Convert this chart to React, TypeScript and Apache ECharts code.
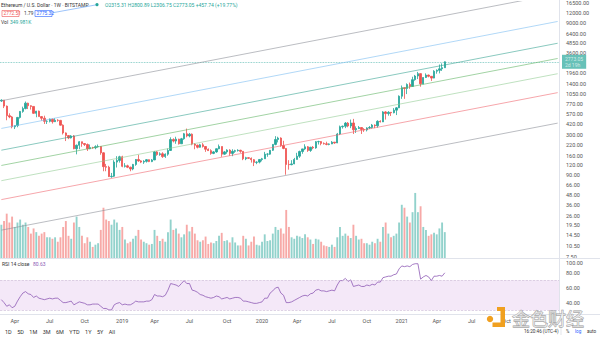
import React, { useEffect, useRef } from "react";
import * as echarts from "echarts";

// ---- categories (weekly bars, Monday opens) ----
const START_DATE = Date.UTC(2018, 1, 26);
const CATEGORY_COUNT = 208;
const categories: string[] = Array.from({ length: CATEGORY_COUNT }, (_, i) =>
  new Date(START_DATE + i * 7 * 86400000).toISOString().slice(0, 10)
);
const MONTHS = ["Jan", "Feb", "Mar", "Apr", "May", "Jun", "Jul", "Aug", "Sep", "Oct", "Nov", "Dec"];
const LAST_LABEL_DATE = "2021-12-31";

// ---- OHLC [open, high, low, close] ----
const ohlc2018: number[][] = [
  [842, 888, 820, 865], [865, 870, 680, 722], [722, 735, 470, 540], [540, 580, 500, 520],
  [520, 535, 368, 385], [385, 400, 360, 400], [400, 520, 380, 512], [512, 620, 495, 615],
  [615, 710, 590, 670], [670, 830, 655, 790], [790, 800, 660, 730], [730, 740, 650, 715],
  [715, 720, 570, 580], [580, 625, 515, 620], [620, 630, 525, 525], [525, 530, 465, 500],
  [500, 540, 420, 455], [455, 470, 420, 455], [455, 495, 440, 485], [485, 495, 425, 450],
  [450, 500, 445, 470], [470, 485, 450, 468], [468, 475, 400, 405], [405, 415, 305, 320],
  [320, 325, 250, 295], [295, 300, 265, 275], [275, 300, 270, 292], [292, 300, 195, 198],
  [198, 225, 167, 220], [220, 250, 195, 245], [245, 245, 210, 232], [232, 235, 215, 225],
  [225, 232, 185, 198], [198, 225, 195, 205], [205, 210, 198, 204], [204, 220, 195, 211],
  [211, 225, 205, 212], [212, 215, 165, 175], [175, 178, 100, 115], [115, 125, 100, 113],
  [113, 118, 84, 85], [85, 95, 82, 86], [86, 140, 84, 132], [132, 158, 112, 139],
  [139, 160, 130, 155],
];
const ohlc2019: number[][] = [
  [155, 160, 113, 116], [116, 128, 112, 118], [118, 122, 110, 113], [113, 115, 100, 107],
  [107, 125, 103, 123], [123, 145, 118, 143], [143, 165, 133, 137], [137, 140, 128, 132],
  [132, 140, 125, 135], [135, 145, 130, 142], [142, 143, 132, 134], [134, 145, 132, 141],
  [141, 185, 140, 180], [180, 185, 160, 166], [166, 178, 160, 170], [170, 178, 150, 156],
  [156, 172, 150, 168], [168, 200, 160, 188], [188, 280, 185, 262], [262, 272, 240, 250],
  [250, 285, 230, 265], [265, 268, 225, 230], [230, 275, 230, 268], [268, 320, 260, 312],
  [312, 365, 280, 292], [292, 320, 280, 308], [308, 315, 220, 228], [228, 235, 195, 220],
  [220, 225, 200, 207], [207, 230, 205, 223], [223, 235, 205, 212], [212, 215, 180, 195],
  [195, 200, 185, 187], [187, 195, 165, 172], [172, 185, 168, 180], [180, 200, 175, 198],
  [198, 225, 195, 212], [212, 212, 155, 168], [168, 185, 165, 180], [180, 195, 170, 190],
  [190, 195, 160, 172], [172, 195, 158, 183], [183, 192, 175, 187], [187, 195, 182, 189],
  [189, 192, 175, 183], [183, 183, 140, 146], [146, 155, 140, 151], [151, 153, 145, 148],
  [148, 152, 130, 142], [142, 145, 117, 131], [131, 135, 124, 132], [132, 145, 127, 143],
];
const ohlc2020: number[][] = [
  [143, 150, 135, 146], [146, 180, 145, 168], [168, 173, 155, 168], [168, 190, 165, 189],
  [189, 228, 185, 226], [226, 290, 220, 262], [262, 285, 240, 274], [274, 280, 210, 218],
  [218, 252, 195, 200], [200, 202, 90, 123], [123, 140, 105, 122], [122, 140, 120, 125],
  [125, 150, 124, 143], [143, 175, 143, 158], [158, 187, 150, 182], [182, 198, 170, 197],
  [197, 227, 190, 210], [210, 215, 180, 188], [188, 210, 180, 207], [207, 215, 195, 203],
  [203, 250, 198, 245], [245, 252, 225, 246], [246, 250, 220, 233], [233, 240, 225, 230],
  [230, 245, 220, 226], [226, 233, 220, 229], [229, 250, 228, 242], [242, 243, 230, 236],
  [236, 320, 235, 310], [310, 400, 300, 386], [386, 400, 365, 392], [392, 445, 370, 431],
  [431, 445, 380, 395], [395, 480, 370, 433], [433, 490, 310, 352], [352, 390, 320, 366],
  [366, 395, 360, 377], [377, 380, 310, 355], [355, 370, 330, 350], [350, 380, 335, 372],
  [372, 395, 360, 377], [377, 420, 365, 406], [406, 415, 370, 397], [397, 470, 375, 455],
  [455, 470, 440, 447], [447, 620, 445, 605], [605, 620, 480, 575], [575, 620, 540, 598],
  [598, 605, 535, 590], [590, 680, 580, 639], [639, 700, 550, 685], [685, 1000, 680, 975],
];
const ohlc2021: number[][] = [
  [975, 1350, 900, 1262], [1262, 1270, 900, 1232], [1232, 1440, 1040, 1390], [1390, 1475, 1220, 1312],
  [1312, 1760, 1300, 1610], [1610, 1860, 1560, 1800], [1800, 2040, 1640, 1935], [1935, 1960, 1300, 1420],
  [1420, 1730, 1400, 1720], [1720, 1950, 1700, 1850], [1850, 1880, 1730, 1785], [1785, 1800, 1550, 1690],
  [1690, 2150, 1680, 2080], [2080, 2200, 1930, 2140], [2140, 2550, 1950, 2240], [2240, 2640, 2100, 2315.31],
  [2315.31, 2800.89, 2306.75, 2773.05],
];

// ---- volume (thousand ETH) ----
const volume2018 = [450, 500, 600, 480, 560, 420, 480, 520, 450, 480, 420, 330, 400, 350, 300, 330, 350, 280, 280, 260, 280, 220, 280, 420, 500, 300, 260, 480, 560, 420, 300, 200, 280, 220, 150, 180, 200, 380, 680, 520, 500, 450, 520, 480, 380];
const volume2019 = [420, 250, 200, 220, 260, 300, 380, 250, 220, 200, 180, 190, 380, 300, 230, 260, 220, 350, 520, 380, 400, 330, 280, 320, 450, 360, 420, 330, 240, 220, 240, 290, 190, 210, 200, 230, 300, 340, 230, 240, 210, 280, 210, 170, 170, 300, 260, 170, 220, 290, 180, 170];
const volume2020 = [220, 320, 230, 240, 330, 420, 380, 400, 330, 650, 420, 280, 260, 300, 290, 270, 320, 280, 250, 190, 260, 250, 220, 170, 160, 150, 180, 150, 280, 420, 300, 330, 300, 270, 450, 300, 250, 260, 200, 200, 180, 220, 200, 260, 220, 420, 480, 330, 280, 300, 330, 480];
const volume2021 = [720, 680, 560, 480, 620, 880, 620, 700, 420, 380, 300, 320, 340, 320, 400, 480, 350];

// ---- RSI(14) ----
const rsi2018 = [44, 40, 35, 37, 33, 35, 42, 48, 53, 55, 52, 51, 47, 49, 46, 45, 44, 45, 46, 45, 46, 46, 43, 40, 40, 41, 42, 37, 39, 41, 40, 39, 37, 37, 38, 38, 38, 35, 32, 32, 30, 30, 37, 39, 40];
const rsi2019 = [37, 38, 37, 37, 39, 42, 41, 41, 41, 42, 42, 44, 51, 49, 49, 48, 50, 57, 66, 65, 64, 62, 66, 70, 66, 66, 57, 56, 54, 51, 50, 48, 47, 46, 47, 49, 48, 45, 46, 47, 45, 46, 47, 47, 46, 42, 42, 41, 40, 39, 39, 40];
const rsi2020 = [41, 46, 46, 53, 56, 60, 61, 53, 50, 40, 40, 41, 43, 45, 47, 49, 50, 49, 52, 53, 57, 58, 56, 56, 55, 56, 57, 56, 64, 70, 70, 73, 69, 71, 62, 63, 64, 62, 62, 64, 63, 65, 64, 68, 68, 74, 75, 76, 76, 78, 79, 86];
const rsi2021 = [90, 89, 90, 89, 92, 93, 93, 72, 75, 77, 75, 70, 76, 76, 77, 76, 80.63];

// ---- axis tick labels ----
const priceTickLabels = [16500, 12000, 9000, 6400, 4850, 3600, 1960, 1400, 1050, 770, 570, 420, 300, 220, 160, 120, 90, 66, 48, 36, 26, 19.5, 14.5, 10.5, 7.5];
const rsiTickLabels = [40, 60, 80, 100];
const lastPrice = 2773.05;

// ---- Fibonacci channel (price at first and last category) ----
const fibLevelNames = ["0", "0.236", "0.382", "0.5", "0.618", "0.786", "1"];
const fibStartPrice = [16.74, 42.3, 75.1, 119.2, 189.4, 366.7, 849];
const fibEndPrice = [431, 1087, 1930, 3064, 4866, 9423, 21820];
const fibColors = ["#8d9099", "#f06a72", "#93cc96", "#63b566", "#3aa493", "#7cbdf2", "#8d9099"];

const UP = "#26a69a";
const DOWN = "#ef5350";

export default function App() {
  const ref = useRef<HTMLDivElement>(null);

  useEffect(() => {
    if (!ref.current) return;
    const chart = echarts.init(ref.current, undefined, { renderer: "svg" });

    const ohlc = [...ohlc2018, ...ohlc2019, ...ohlc2020, ...ohlc2021];
    const vols = [...volume2018, ...volume2019, ...volume2020, ...volume2021];
    const rsi = [...rsi2018, ...rsi2019, ...rsi2020, ...rsi2021];

    const candleData = ohlc.map(([o, h, l, c]) => [o, c, l, h]);
    const volData = vols.map((v, i) => ({
      value: v,
      itemStyle: { color: ohlc[i][3] >= ohlc[i][0] ? "rgba(38,166,154,0.5)" : "rgba(239,83,80,0.5)" },
    }));

    const font = "Roboto, 'Noto Sans', sans-serif";
    const lastIdx = categories.length - 1;

    const xAxisBase = (gridIndex: number) => ({
      type: "category" as const,
      gridIndex,
      data: categories,
      boundaryGap: true,
      axisLine: { show: false },
      axisTick: { show: false },
      splitLine: { show: false },
      axisLabel: { show: false },
    });

    const fibSeries = fibLevelNames.map((name, k) => ({
      type: "line",
      name: "fib " + name,
      xAxisIndex: 0,
      yAxisIndex: 0,
      data: [
        [categories[0], fibStartPrice[k]],
        [categories[lastIdx], fibEndPrice[k]],
      ],
      symbol: "none",
      silent: true,
      clip: true,
      lineStyle: { color: fibColors[k], width: 0.8, opacity: 0.75 },
      z: 5,
    }));

    const option: any = {
      animation: false,
      textStyle: { fontFamily: font },
      grid: [
        { left: 0, right: 41, top: 0, height: 258 },
        { left: 0, right: 41, top: 190, height: 68 },
        { left: 0, right: 41, top: 258.6, height: 55 },
      ],
      xAxis: [
        xAxisBase(0),
        xAxisBase(1),
        {
          ...xAxisBase(2),
          axisLabel: {
            show: true,
            fontSize: 5.5,
            color: "#555",
            margin: 4,
            interval: (idx: number, val: string) => {
              if (val > LAST_LABEL_DATE) return false;
              const m = new Date(val).getUTCMonth();
              if (m % 3 !== 0 || idx === 0) return false;
              return new Date(categories[idx - 1]).getUTCMonth() !== m;
            },
            formatter: (val: string) => {
              const d = new Date(val);
              const m = d.getUTCMonth();
              return m === 0 ? String(d.getUTCFullYear()) : MONTHS[m];
            },
          },
        },
      ],
      yAxis: [
        {
          type: "log",
          gridIndex: 0,
          position: "right",
          min: 7.19,
          max: 17380,
          axisLine: { show: false },
          axisTick: { show: false },
          splitLine: { show: false },
          axisLabel: {
            customValues: priceTickLabels,
            formatter: (v: number) => v.toFixed(2),
            fontSize: 5.5,
            color: "#555",
            margin: 7,
          },
        },
        { type: "value", gridIndex: 1, min: 0, max: 920, show: false },
        {
          type: "value",
          gridIndex: 2,
          position: "right",
          min: 25,
          max: 100,
          axisLine: { show: false },
          axisTick: { show: false },
          splitLine: { show: false },
          axisLabel: {
            customValues: rsiTickLabels,
            formatter: (v: number) => (v >= 100 ? "{top|" + v.toFixed(2) + "}" : v.toFixed(2)),
            fontSize: 5.5,
            color: "#555",
            margin: 7,
            rich: { top: { fontSize: 5.5, color: "#555", padding: [9, 0, 0, 0] } },
          },
        },
      ],
      series: [
        {
          type: "bar",
          name: "Volume",
          xAxisIndex: 1,
          yAxisIndex: 1,
          data: volData,
          barWidth: "70%",
          silent: true,
          z: 1,
        },
        {
          type: "candlestick",
          name: "ETHUSD",
          xAxisIndex: 0,
          yAxisIndex: 0,
          data: candleData,
          barWidth: "70%",
          itemStyle: { color: UP, color0: DOWN, borderColor: UP, borderColor0: DOWN, borderWidth: 0.8 },
          z: 3,
          markLine: {
            symbol: "none",
            silent: true,
            data: [{ yAxis: lastPrice }],
            lineStyle: { color: UP, type: "dotted", width: 0.8, opacity: 0.7 },
            label: {
              position: "end",
              formatter: lastPrice.toFixed(2) + "\n2d 19h",
              backgroundColor: UP,
              color: "#fff",
              fontSize: 5,
              lineHeight: 6,
              padding: [1, 3],
              distance: 3,
            },
          },
        },
        ...fibSeries,
        {
          type: "line",
          name: "RSI",
          xAxisIndex: 2,
          yAxisIndex: 2,
          data: rsi,
          symbol: "none",
          silent: true,
          lineStyle: { color: "#8e5bb5", width: 0.8 },
          z: 4,
          markArea: {
            silent: true,
            itemStyle: { color: "#f4e8f8" },
            data: [[{ yAxis: 30 }, { yAxis: 70 }]],
          },
          markLine: {
            symbol: "none",
            silent: true,
            label: { show: false },
            lineStyle: { color: "#c7b3d3", type: "dashed", width: 0.6 },
            data: [{ yAxis: 70 }, { yAxis: 30 }],
          },
        },
      ],
      graphic: [
        { type: "line", shape: { x1: 0, y1: 258.5, x2: 600, y2: 258.5 }, style: { stroke: "#e0e3eb", lineWidth: 1 }, z: 10 },
        { type: "line", shape: { x1: 0, y1: 314.5, x2: 600, y2: 314.5 }, style: { stroke: "#e0e3eb", lineWidth: 1 }, z: 10 },
        { type: "line", shape: { x1: 559.5, y1: 0, x2: 559.5, y2: 314 }, style: { stroke: "#e0e3eb", lineWidth: 1 }, z: 10 },
        { type: "text", x: 1, y: 2.3, style: { text: "Ethereum / U.S. Dollar · 1W · BITSTAMP", fontSize: 5, fill: "#333", fontFamily: font } },
        { type: "line", shape: { x1: 53, y1: 12.7, x2: 97, y2: 4.7 }, style: { stroke: "#5b9cf6", lineWidth: 0.6 } },
        { type: "circle", shape: { cx: 97, cy: 4.7, r: 1.6 }, style: { fill: UP } },
        { type: "text", x: 105, y: 2.3, style: { text: "O2315.31 H2800.89 L2306.75 C2773.05 +457.74 (+19.77%)", fontSize: 5, fill: UP, fontFamily: font } },
        { type: "rect", shape: { x: 2, y: 10.5, width: 17, height: 6 }, style: { fill: "#fff", stroke: DOWN, lineWidth: 0.6 } },
        { type: "text", x: 3.5, y: 11.3, style: { text: "2772.51", fontSize: 4.8, fill: DOWN, fontFamily: font } },
        { type: "text", x: 24, y: 11.3, style: { text: "1.79", fontSize: 4.8, fill: "#333", fontFamily: font } },
        { type: "rect", shape: { x: 35, y: 10.5, width: 17, height: 6 }, style: { fill: "#fff", stroke: "#2962ff", lineWidth: 0.6 } },
        { type: "text", x: 36.5, y: 11.3, style: { text: "2775.32", fontSize: 4.8, fill: "#2962ff", fontFamily: font } },
        { type: "text", x: 1, y: 19.5, style: { text: "Vol", fontSize: 5, fill: "#333", fontFamily: font } },
        { type: "text", x: 10, y: 19.5, style: { text: "349.981K", fontSize: 5, fill: UP, fontFamily: font } },
        { type: "text", x: 2, y: 261.5, style: { text: "RSI 14 close", fontSize: 5, fill: "#333", fontFamily: font } },
        { type: "text", x: 33, y: 261.5, style: { text: "80.63", fontSize: 5, fill: "#8e5bb5", fontFamily: font } },
        { type: "text", x: 5, y: 328.5, style: { text: "1D    5D    1M    3M    6M    YTD    1Y    5Y    All", fontSize: 5.5, fill: "#333", fontFamily: font } },
        { type: "text", x: 524, y: 329, style: { text: "16:20:46 (UTC-4)", fontSize: 4.6, fill: "#333", fontFamily: font } },
        { type: "line", shape: { x1: 561, y1: 327, x2: 561, y2: 335 }, style: { stroke: "#d0d3db", lineWidth: 0.6 } },
        { type: "text", x: 566, y: 329, style: { text: "%", fontSize: 4.6, fill: "#333", fontFamily: font } },
        { type: "text", x: 575, y: 329, style: { text: "log", fontSize: 4.6, fill: "#2962ff", fontFamily: font } },
        { type: "text", x: 587, y: 329, style: { text: "auto", fontSize: 4.6, fill: "#333", fontFamily: font } },
        { type: "circle", shape: { cx: 490, cy: 319, r: 3.2 }, style: { fill: "#f0a020" }, z: 20 },
        {
          type: "polygon",
          shape: { points: [[497, 307], [505, 307], [505, 327], [492.5, 327], [492.5, 322.5], [500.5, 322.5], [500.5, 311], [497, 311]] },
          style: { fill: "#f0a020" },
          z: 20,
        },
        {
          type: "text",
          x: 512,
          y: 308.5,
          style: { text: "金色财经", fontSize: 18, fontFamily: "'Noto Sans CJK SC'", fill: "rgba(255,255,255,0.55)", stroke: "#9a9a9a", lineWidth: 0.8 },
          z: 20,
        },
      ],
    };

    chart.setOption(option);
    return () => chart.dispose();
  }, []);

  return (
    <div
      ref={ref}
      style={{ position: "fixed", left: 0, top: 0, width: 600, height: 337, background: "#fff" }}
    />
  );
}
